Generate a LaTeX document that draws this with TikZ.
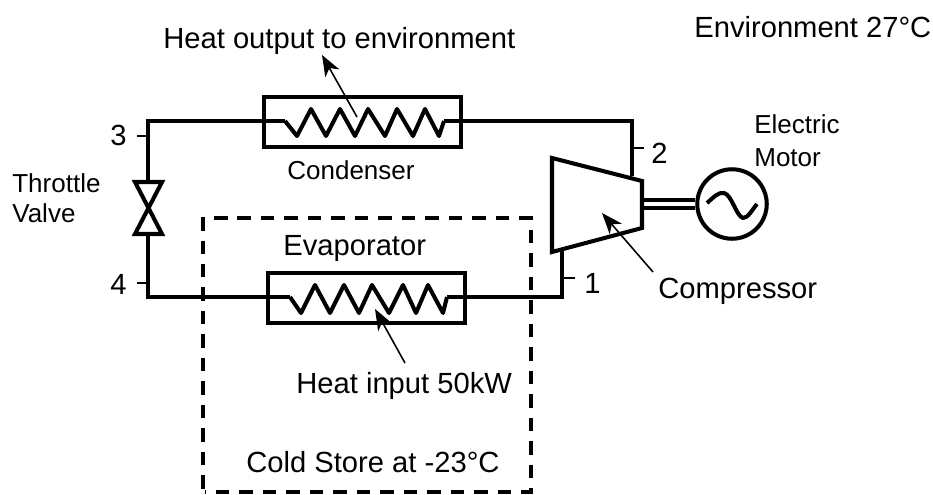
\documentclass[tikz,border=0pt]{standalone}
\usepackage{fontspec}
\setmainfont{Liberation Sans}
\usetikzlibrary{arrows.meta}
\tikzset{
  >={Stealth[length=4.2mm,width=3.2mm,inset=1.2mm]},
  %% nodes
  hx/.style     = {draw=black, line width=2.3pt, fill=white, minimum width=39.4mm,
                   minimum height=10mm, inner sep=0pt},
  lbl/.style    = {font=\fontsize{16.6}{20}\selectfont, anchor=base west, inner sep=0pt},
  lblsm/.style  = {font=\fontsize{14.8}{17}\selectfont, anchor=base west, inner sep=0pt},
  %% lines
  pipe/.style   = {draw=black, line width=2.3pt, line join=miter},
  tick/.style   = {draw=black, line width=0.9pt},
  heat/.style   = {->, draw=black, line width=0.9pt},
  store/.style  = {draw=black, line width=1.9pt, dash pattern=on 2.7mm off 2mm},
}
\begin{document}
\begin{tikzpicture}[x=0.02cm, y=-0.02cm]
\useasboundingbox (0,0) rectangle (933,494);

%% ---- cold store ----
\draw[store] (203,217) -- (203,492);
\draw[store] (214,218) -- (531,218) -- (531,492) -- (205,492);

%% ---- heat exchangers ----
\node[hx] (cond) at (362.5,122) {};
\node[hx] (evap) at (366.5,298) {};
\draw[pipe, line join=round] (285,121) coordinate (condin) -- (297,136) -- (311,109) -- (326,136) -- (340,109)
  -- (355,136) -- (368,109) -- (385,136) -- (397,109) -- (413,136) -- (425,109) -- (439,136)
  -- (444,121) coordinate (condout);
\draw[pipe, line join=round] (290,297) coordinate (evapin) -- (301,313) -- (315,285) -- (330,313) -- (344,285)
  -- (359,313) -- (372,285) -- (389,313) -- (403,285) -- (416,313) -- (428,285) -- (443,313)
  -- (447,297) coordinate (evapout);

%% ---- compressor and motor ----
\coordinate (compA) at (552,158);
\coordinate (compB) at (642,181);
\coordinate (compC) at (642,228);
\coordinate (compD) at (552,252);
\draw[pipe] (compA) -- (compB) -- (compC) -- (compD) -- cycle;
\node[circle, draw=black, line width=2.3pt, minimum size=13.9mm, inner sep=0pt] (motor) at (732,204) {};
\draw[pipe] (642,200) coordinate (shaftA) -- (shaftA -| motor.west);
\draw[pipe] (642,208) coordinate (shaftB) -- (shaftB -| motor.west);
\draw[pipe, line join=round] (707,203) coordinate (waveA) .. controls (714,197) and (718,192) .. (724,193)
  .. controls (732,195) and (736,216) .. (743,218) .. controls (748,218) and (752,210) .. (757,204) coordinate (waveB);

%% ---- throttle valve ----
\coordinate (valvetop) at (148,182);
\coordinate (valvebot) at (148,234);
\draw[pipe] (135,182) -- (162,182) -- (135,234) -- (162,234) -- cycle;

%% ---- circuit ----
\draw[pipe] (condin) -| (valvetop);
\draw[pipe] (valvebot) |- (evapin);
\draw[pipe] (evapout) -| (562,250) coordinate (compin);
\draw[pipe] (condout) -| (632,176) coordinate (compout);

%% ---- state points ----
\draw[tick] (137,136) coordinate (tickc) -- (tickc -| valvetop);
\draw[tick] (137,283) coordinate (ticke) -- (ticke -| valvebot);
\draw[tick] (632,148) coordinate (ticka) -- (644,148);
\draw[tick] (562,278) coordinate (tickb) -- (575,278);
\node[lbl] (pt3) at (110,145) {3};
\node[lbl] (pt4) at (110,294) {4};
\node[lbl] (pt2) at (651,163) {2};
\node[lbl] (pt1) at (584,293) {1};

%% ---- heat arrows ----
\coordinate (outfrom) at (357,117);
\coordinate (outto) at (322,55);
\coordinate (infrom) at (405,363);
\coordinate (into) at (375,309);
\coordinate (compfrom) at (653,272);
\coordinate (compto) at (602,213);
\draw[heat] (outfrom) -- (outto);
\draw[heat] (infrom) -- (into);
\draw[heat] (compfrom) -- (compto);

%% ---- labels ----
\node[lbl] (envt) at (694,37) {Environment 27\textdegree C};
\node[lbl] (hout) at (163,48) {Heat output to environment};
\node[lblsm] (condl) at (287,179) {Condenser};
\node[lblsm] (elec) at (754,133) {Electric};
\node[lblsm] (moto) at (754,166) {Motor};
\node[lblsm] (thro) at (12,192) {Throttle};
\node[lblsm] (valv) at (12,222) {Valve};
\node[lbl] (evapl) at (283,255) {Evaporator};
\node[lbl] (comp) at (658,298) {Compressor};
\node[lbl] (hin) at (296,393) {Heat input 50kW};
\node[lbl] (cold) at (246,472) {Cold Store at -23\textdegree C};
\end{tikzpicture}
\end{document}
